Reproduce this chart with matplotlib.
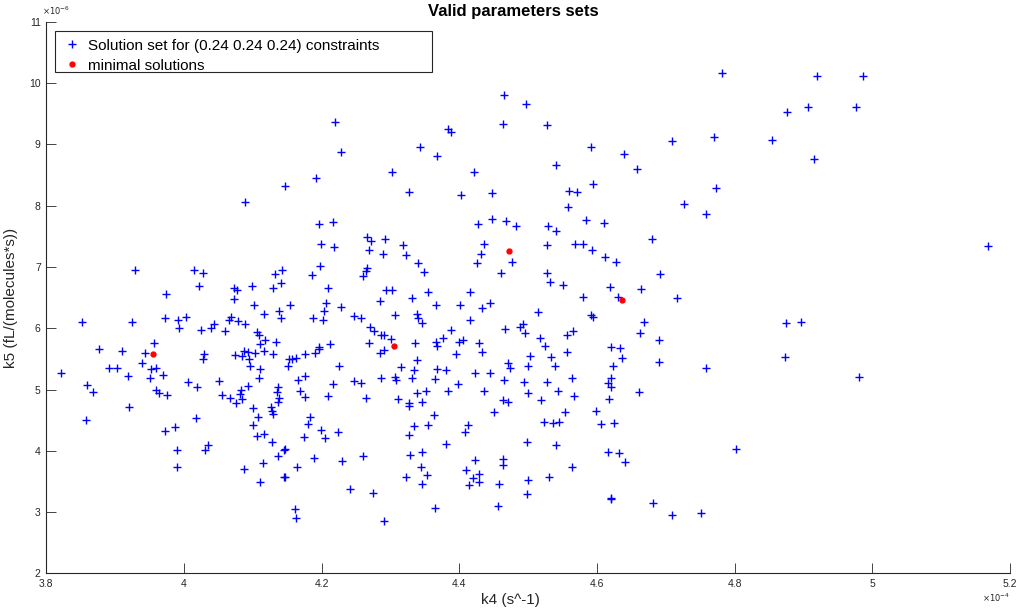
import matplotlib
matplotlib.use("Agg")
import matplotlib.pyplot as plt
from matplotlib.patches import Rectangle

plt.rcParams['font.family'] = ['Liberation Sans', 'DejaVu Sans']

# k4 in units of 1e-4 s^-1, k5 in units of 1e-6 fL/(molecules*s)
k4 = [
    4.089, 4.147, 4.219, 4.228, 4.192, 4.302, 4.327, 4.343, 4.367, 4.383,
    4.388, 4.421, 4.402, 4.447, 4.465, 4.497, 4.463, 4.781, 4.527, 4.591,
    4.540, 4.639, 4.658, 4.709, 4.770, 4.854, 4.559, 4.571, 4.594, 4.558,
    4.773, 4.726, 4.919, 4.986, 4.906, 4.876, 4.976, 4.915,
    3.929, 4.015, 4.028, 4.022, 3.974, 4.073, 4.077, 4.073, 4.099, 4.102,
    4.132, 4.142, 4.129, 4.141, 4.154, 4.116, 4.138, 4.141, 3.852, 3.924,
    3.972, 3.991, 4.003, 3.993, 4.025, 4.039, 4.044, 4.060, 4.068, 4.065,
    4.078, 4.089, 4.106, 4.109, 4.118, 4.110, 4.134, 4.116, 4.129, 4.103,
    4.093, 4.087, 4.084, 4.074, 4.094, 4.096, 4.110, 4.109, 4.153, 4.151,
    4.029, 4.028, 3.956, 3.943, 3.910, 3.877, 3.939, 3.952, 3.959, 3.891,
    3.903, 3.919, 3.951, 3.969, 3.821, 3.859, 4.006, 4.019, 4.051, 4.093,
    4.137,
    3.868, 3.858, 3.920, 3.959, 3.964, 3.975, 4.017, 3.972, 3.987, 3.990,
    3.990, 4.031, 4.035, 4.055, 4.067, 4.076, 4.081, 4.083, 4.084, 4.100,
    4.107, 4.100, 4.106, 4.116, 4.128, 4.137, 4.145, 4.115, 4.087, 4.110,
    4.145, 4.126, 4.128, 4.129, 4.137, 4.138, 4.135,
    4.196, 4.216, 4.199, 4.218, 4.198, 4.186, 4.209, 4.206, 4.203, 4.187,
    4.202, 4.228, 4.266, 4.272, 4.292, 4.269, 4.289, 4.318, 4.322, 4.266,
    4.264, 4.260, 4.340, 4.349, 4.294, 4.302, 4.285, 4.331, 4.354, 4.366,
    4.247, 4.257, 4.306, 4.338, 4.340, 4.346, 4.270, 4.276, 4.286, 4.291,
    4.301, 4.269, 4.291, 4.285, 4.335, 4.366, 4.367, 4.376, 4.388, 4.401,
    4.415, 4.433, 4.444, 4.415, 4.427, 4.447, 4.468, 4.482, 4.436, 4.431,
    4.425, 4.476, 4.460, 4.466, 4.488, 4.492, 4.495, 4.399, 4.405, 4.428,
    4.433, 4.395, 4.471, 4.473, 4.503, 4.500, 4.212, 4.196, 4.196, 4.190,
    4.176, 4.163, 4.157, 4.225, 4.315, 4.334, 4.338, 4.367, 4.380, 4.423,
    4.444, 4.465, 4.494, 4.398, 4.365, 4.331, 4.306, 4.308, 4.286, 4.257,
    4.247, 4.216, 4.176, 4.165,
    4.168, 4.176, 4.209, 4.264, 4.311, 4.327, 4.327, 4.338, 4.351, 4.346,
    4.383, 4.436, 4.463, 4.471, 4.450, 4.500, 4.363, 4.334, 4.354, 4.327,
    4.412, 4.408, 4.380, 4.498, 4.183, 4.180, 4.199, 4.205, 4.174, 4.224,
    4.147, 4.189, 4.164, 4.147, 4.229, 4.260, 4.329, 4.346, 4.344, 4.353,
    4.322, 4.346, 4.423, 4.410, 4.429, 4.420, 4.414, 4.429, 4.463, 4.463,
    4.457, 4.500, 4.498, 4.241, 4.275, 4.365, 4.456, 4.161, 4.163, 4.291,
    4.758, 4.529, 4.540, 4.584, 4.610, 4.527, 4.568, 4.580, 4.593, 4.612,
    4.627, 4.680, 4.692, 4.527, 4.532, 4.551, 4.619, 4.664, 4.580, 4.631,
    4.716, 4.514, 4.591, 4.594, 4.668, 4.662, 4.690, 4.565, 4.556, 4.517,
    4.524, 4.556, 4.533, 4.539, 4.620, 4.633, 4.636, 4.623, 4.690, 4.758,
    4.563, 4.527, 4.620, 4.616, 4.620, 4.543, 4.661, 5.168, 4.874, 4.896,
    4.873, 4.980,
    4.566, 4.518, 4.618, 4.553, 4.598, 4.523, 4.536, 4.545, 4.606, 4.625,
    4.540, 4.616, 4.632, 4.640, 4.802, 4.563, 4.530, 4.620, 4.620, 4.681,
    4.709, 4.751,
]

k5 = [
    8.06, 8.32, 9.37, 8.88, 8.45, 8.55, 8.22, 8.96, 8.81, 9.25,
    9.20, 8.55, 8.18, 8.21, 9.81, 9.66, 9.33, 10.17, 9.32, 8.96,
    8.66, 8.84, 8.60, 9.06, 9.12, 9.07, 8.24, 8.22, 8.35, 7.98,
    8.29, 8.03, 10.12, 10.12, 9.61, 9.53, 9.61, 8.76,
    6.95, 6.95, 6.90, 6.69, 6.56, 6.66, 6.63, 6.48, 6.69, 6.38,
    6.89, 6.95, 6.66, 6.74, 6.38, 6.23, 6.28, 6.17, 6.10, 6.10,
    6.17, 6.14, 6.18, 6.01, 5.97, 6.01, 6.07, 5.96, 6.18, 6.14,
    6.12, 6.07, 5.94, 5.89, 5.81, 5.74, 5.78, 5.63, 5.58, 5.60,
    5.61, 5.63, 5.55, 5.57, 5.50, 5.39, 5.34, 5.19, 5.50, 5.39,
    5.58, 5.50, 5.76, 5.60, 5.63, 5.66, 5.43, 5.34, 5.35, 5.35,
    5.35, 5.22, 5.19, 5.24, 5.27, 5.08, 5.12, 5.04, 5.14, 5.06,
    5.04,
    4.96, 4.50, 4.72, 4.99, 4.95, 4.91, 4.54, 4.33, 4.39, 4.02,
    3.74, 4.02, 4.10, 4.91, 4.86, 4.78, 4.93, 4.99, 4.85, 4.70,
    4.55, 4.42, 4.24, 4.28, 4.15, 3.92, 4.02, 3.80, 3.71, 3.49,
    3.57, 4.72, 4.65, 4.60, 4.80, 4.86, 4.96,
    7.70, 7.73, 7.38, 7.33, 7.02, 6.87, 6.66, 6.41, 6.28, 6.17,
    6.14, 6.35, 7.49, 7.42, 7.46, 7.28, 7.21, 7.36, 7.20, 6.98,
    6.94, 6.85, 7.07, 6.92, 6.63, 6.63, 6.45, 6.49, 6.59, 6.38,
    6.20, 6.17, 6.22, 6.23, 6.17, 6.09, 6.02, 5.96, 5.89, 5.89,
    5.83, 5.76, 5.65, 5.60, 5.76, 5.78, 5.71, 5.84, 5.97, 6.38,
    6.59, 6.33, 6.41, 6.14, 7.70, 7.78, 7.75, 7.67, 7.38, 7.21,
    7.07, 7.08, 6.90, 5.99, 6.02, 6.07, 5.92, 5.78, 5.81, 5.76,
    5.61, 5.58, 5.43, 5.35, 5.55, 5.39, 5.74, 5.70, 5.66, 5.60,
    5.58, 5.52, 5.50, 5.39, 5.37, 5.32, 5.48, 5.34, 5.32, 5.27,
    5.27, 5.16, 5.12, 5.09, 5.17, 5.19, 5.21, 5.16, 5.19, 5.11,
    5.14, 5.09, 5.22, 5.16,
    4.98, 4.88, 4.90, 4.86, 4.85, 4.78, 4.73, 4.95, 4.98, 4.80,
    4.98, 4.98, 4.83, 4.80, 4.64, 4.95, 4.59, 4.41, 4.42, 4.26,
    4.42, 4.31, 4.11, 4.15, 4.55, 4.44, 4.34, 4.21, 4.23, 4.31,
    4.03, 3.88, 3.74, 3.57, 3.84, 3.92, 3.93, 3.98, 3.74, 3.61,
    3.57, 3.46, 3.85, 3.69, 3.62, 3.56, 3.44, 3.49, 3.87, 3.77,
    3.46, 3.53, 3.30, 3.38, 3.31, 3.07, 3.10, 3.05, 2.91, 2.86,
    7.87, 7.67, 7.59, 7.77, 7.72, 7.36, 7.38, 7.38, 7.28, 7.16,
    7.08, 7.46, 6.89, 6.90, 6.76, 6.71, 6.67, 6.64, 6.51, 6.51,
    6.49, 6.27, 6.22, 6.18, 6.10, 5.92, 5.81, 5.96, 5.89, 5.84,
    5.71, 5.61, 5.53, 5.39, 5.70, 5.68, 5.52, 5.39, 5.45, 5.35,
    5.19, 5.12, 5.19, 5.11, 5.04, 4.98, 4.96, 7.34, 6.09, 6.10,
    5.53, 5.21,
    4.90, 4.83, 4.85, 4.64, 4.65, 4.47, 4.46, 4.47, 4.44, 4.46,
    4.10, 3.98, 3.97, 3.82, 4.03, 3.74, 3.57, 3.22, 3.23, 3.15,
    2.95, 2.99,
]

min_k4 = [3.955, 4.305, 4.472, 4.636]
min_k5 = [5.58, 5.71, 7.26, 6.46]

x_ticks = [3.8, 4.0, 4.2, 4.4, 4.6, 4.8, 5.0, 5.2]
x_tick_labels = ["3.8", "4", "4.2", "4.4", "4.6", "4.8", "5", "5.2"]
y_ticks = list(range(2, 12))

axis_color = "#262626"

fig = plt.figure(figsize=(10.19, 6.16), dpi=100)
ax = fig.add_axes([0.0454, 0.069, 0.9459, 0.8956])

ax.plot(k4, k5, "+", color="blue", ms=6, mew=1.0,
        label="Solution set for (0.24 0.24 0.24) constraints")
ax.plot(min_k4, min_k5, "o", color="red", ms=3.5, mec="red",
        label="minimal solutions")

ax.set_xlim(3.8, 5.2)
ax.set_ylim(2, 11)
ax.set_xticks(x_ticks)
ax.set_xticklabels(x_tick_labels)
ax.set_yticks(y_ticks)
ax.set_yticklabels([str(v) for v in y_ticks])

for side in ["top", "right"]:
    ax.spines[side].set_visible(False)
for side in ["left", "bottom"]:
    ax.spines[side].set_color(axis_color)
    ax.spines[side].set_linewidth(0.8)
ax.tick_params(direction="in", length=7, width=0.6, colors=axis_color,
               labelsize=7.5, pad=4)

ax.set_title("Valid parameters sets", fontsize=12, fontweight="bold",
             x=0.485, pad=4)
ax.set_xlabel("k4 (s^-1)", fontsize=11, color=axis_color, labelpad=4)
ax.xaxis.set_label_coords(0.482, -0.035, transform=ax.transAxes)
ax.xaxis.label.set_va("top")
ax.set_ylabel("k5 (fL/(molecules*s))", fontsize=11, color=axis_color, labelpad=8)

fig.text(0.991, 0.022, r"$\times10^{-4}$", fontsize=6, ha="right",
         color=axis_color)
fig.text(0.041, 0.973, r"$\times10^{-6}$", fontsize=6, ha="left",
         va="bottom", color=axis_color)

# legend without its own frame, MATLAB-style box drawn behind it
leg = ax.legend(loc="upper left", bbox_to_anchor=(0.012, 0.975),
                borderaxespad=0, fontsize=11, frameon=False,
                handletextpad=0.3, borderpad=0.2, labelspacing=0.4,
                handlelength=1.5, numpoints=1)
leg.set_zorder(6)
ax.add_patch(Rectangle((55 / 1019, 1 - 72 / 616), 377 / 1019, 41 / 616,
                       transform=fig.transFigure, clip_on=False,
                       facecolor="white", edgecolor=axis_color,
                       linewidth=0.8, zorder=5))

fig.savefig("out.png", dpi=100)
